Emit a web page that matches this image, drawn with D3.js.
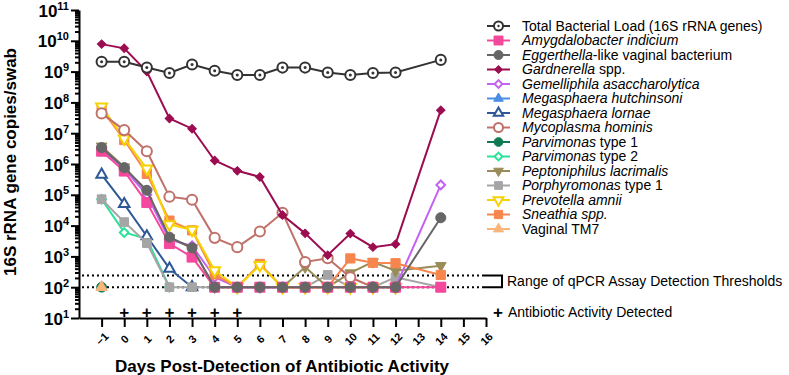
<!DOCTYPE html>
<html lang="en">
<head>
  <meta charset="UTF-8">
  <title>16S rRNA gene copies per swab</title>
  <style>
    body { margin: 0; background: #fff; }
    svg { display: block; font-family: "Liberation Sans", Arial, sans-serif; }
    .axis path, .axis line { stroke: #000; stroke-width: 2; }
    .axis text { fill: #000; }
    .series path.line { fill: none; stroke-width: 2; }
  </style>
</head>
<body>
  <script src="https://cdn.jsdelivr.net/npm/d3@7"></script>
  <script>
    // sampling days (day 13 was not sampled)
    const days = [-1, 0, 1, 2, 3, 4, 5, 6, 7, 8, 9, 10, 11, 12, 14];

    // gene copies / swab (null = not plotted)
    const totalLoad     = [2.1e9, 2.1e9, 1.35e9, 9e8, 1.7e9, 1.07e9, 7.8e8, 7.8e8, 1.35e9, 1.35e9, 9.3e8, 7.8e8, 9e8, 9.3e8, 2.4e9];
    const amygdalobacter = [2.6e6, 5.9e5, 5.6e4, 2.6e3, 9.5e2, 100, 100, 100, 100, 100, 100, 100, 100, 100, 100];
    const eggerthella   = [3.4e6, 7.6e5, 1.4e5, 4.2e3, 1.9e3, 100, 100, 100, 100, 100, 100, 100, 100, 100, 1.8e4];
    const gardnerella   = [7.8e9, 5.7e9, 1e9, 3e7, 1.4e7, 1.3e6, 6e5, 3.8e5, 2.2e4, 5.6e3, 1.1e3, 5.5e3, 2e3, 2.5e3, 5.6e7];
    const gemelliphila  = [3e6, 7e5, 1e5, 3.5e3, 2.2e3, 2.1e2, 100, 100, 100, 100, 100, 100, 100, 100, 2.1e5];
    const mHutchinsoni  = [100, null, null, null, null, null, null, null, null, null, null, null, null, null, null];
    const mLornae       = [4.5e5, 5e4, 4.5e3, 4e2, 100, null, null, null, null, null, null, null, null, null, null];
    const mycoplasma    = [4.4e7, 1.26e7, 2.6e6, 8.7e4, 6.9e4, 4e3, 2e3, 6.4e3, 2.6e4, 6.6e2, 8.7e2, 2.1e2, 100, 100, null];
    const parvimonas1   = [100, null, null, null, null, null, null, null, null, null, null, null, null, null, null];
    const parvimonas2   = [7.2e4, 6e3, 3.7e3, 100, null, null, null, null, null, null, null, null, null, null, null];
    const peptoniphilus = [3.8e6, 8e5, 1.2e5, 4e3, 1.9e3, 100, 100, 100, 100, 4.5e2, 100, 2.9e2, 6.6e2, 3.4e2, 5e2];
    const porphyromonas = [7.2e4, 1.3e4, 2.7e3, 100, 100, 100, 100, 100, 100, 100, 2.5e2, 100, 100, 2.1e2, 100];
    const prevotella    = [7.3e7, 6.7e6, 7e5, 1.1e4, 7.2e3, 3.5e2, 100, 5.2e2, 100, 100, 100, 100, 100, 100, null];
    const sneathia      = [6e7, 6e6, 4.8e5, 1.45e4, 7e3, 2.6e2, 100, 5.7e2, 100, 100, 100, 8.6e2, 6.2e2, 6e2, 2.5e2];
    const vaginalTM7    = [100, null, null, null, null, null, null, null, null, null, null, null, null, null, null];

    // x ticks, y decades, threshold range and antibiotic days
    const xTickDays = d3.range(-1, 17);
    const yDecades = d3.range(1, 12).map(e => Math.pow(10, e));
    const thresholds = [100, 240];
    const antibioticDays = [0, 1, 2, 3, 4, 5];

    const SVGWIDTH = 789;
    const SVGHEIGHT = 375;

    const svg = d3.select('body').append('svg')
      .attr('width', SVGWIDTH)
      .attr('height', SVGHEIGHT);

    const xScale = d3.scaleLinear().domain([-2, 16]).range([79, 486]);
    const yScale = d3.scaleLog().domain([1e1, 1e11]).range([318, 10]);

    // series styling, in legend order
    const series = [
      {key: 'total', values: totalLoad, color: '#333333', shape: 'circle', open: true, dot: true, size: 80,
        label: [['Total Bacterial Load (16S rRNA genes)', false]]},
      {key: 'amyg', values: amygdalobacter, color: '#f4489c', shape: 'square', size: 100,
        label: [['Amygdalobacter indicium', true]]},
      {key: 'egg', values: eggerthella, color: '#666666', shape: 'circle', size: 80,
        label: [['Eggerthella', true], ['-like vaginal bacterium', false]]},
      {key: 'gard', values: gardnerella, color: '#9b0c50', shape: 'diamond', size: 36,
        label: [['Gardnerella', true], [' spp.', false]]},
      {key: 'gem', values: gemelliphila, color: '#c462f2', shape: 'diamond', open: true, size: 38,
        label: [['Gemelliphila asaccharolytica', true]]},
      {key: 'mhut', values: mHutchinsoni, color: '#4a8fe3', shape: 'triangle', size: 50,
        label: [['Megasphaera hutchinsoni', true]]},
      {key: 'mlor', values: mLornae, color: '#2d5895', shape: 'triangle', open: true, size: 48,
        label: [['Megasphaera lornae', true]]},
      {key: 'myco', values: mycoplasma, color: '#c0716a', shape: 'circle', open: true, size: 80,
        label: [['Mycoplasma hominis', true]]},
      {key: 'parv1', values: parvimonas1, color: '#0f7a52', shape: 'circle', size: 75,
        label: [['Parvimonas', true], [' type 1', false]]},
      {key: 'parv2', values: parvimonas2, color: '#2ae39b', shape: 'diamond', open: true, size: 38,
        label: [['Parvimonas', true], [' type 2', false]]},
      {key: 'pept', values: peptoniphilus, color: '#9a8c58', shape: 'triangleDown', size: 50,
        label: [['Peptoniphilus lacrimalis', true]]},
      {key: 'porph', values: porphyromonas, color: '#a5a5a5', shape: 'square', size: 75,
        label: [['Porphyromonas', true], [' type 1', false]]},
      {key: 'prev', values: prevotella, color: '#f6d200', shape: 'triangleDown', open: true, size: 52,
        label: [['Prevotella amnii', true]]},
      {key: 'sneath', values: sneathia, color: '#f7864e', shape: 'square', size: 85,
        label: [['Sneathia spp.', true]]},
      {key: 'tm7', values: vaginalTM7, color: '#f9b67b', shape: 'triangle', size: 55,
        label: [['Vaginal TM7', false]]}
    ];
    const byKey = {};
    series.forEach(s => byKey[s.key] = s);

    // bottom to top
    const drawOrder = ['mhut', 'parv1', 'tm7', 'parv2', 'mlor', 'porph', 'pept', 'gem', 'sneath', 'prev',
      'myco', 'amyg', 'egg', 'gard', 'total'];

    const symbolTypes = {
      circle: d3.symbolCircle, square: d3.symbolSquare, diamond: d3.symbolSquare,
      triangle: d3.symbolTriangle, triangleDown: d3.symbolTriangle
    };
    const symbolRotate = {diamond: 45, triangleDown: 180};

    function addMarker (g, s, x, y, scale) {
      const m = g.append('g').attr('transform', `translate(${x},${y})`);
      m.append('path')
        .attr('d', d3.symbol().type(symbolTypes[s.shape]).size(s.size * scale)())
        .attr('transform', `rotate(${symbolRotate[s.shape] || 0})`)
        .attr('fill', s.open ? '#fff' : s.color)
        .attr('stroke', s.color)
        .attr('stroke-width', s.open ? 2 : 1);
      if (s.dot) {
        m.append('circle').attr('r', 1.5 * scale).attr('fill', s.color);
      }
    }

    // threshold dotted lines + bracket
    const thr = svg.append('g').attr('class', 'thresholds');
    thr.selectAll('line')
      .data(thresholds)
      .enter()
      .append('line')
        .attr('x1', 82)
        .attr('x2', 483)
        .attr('y1', d => yScale(d))
        .attr('y2', d => yScale(d))
        .attr('stroke', '#000')
        .attr('stroke-width', 2)
        .attr('stroke-dasharray', '2,3');
    thr.append('path')
      .attr('d', `M483,${yScale(thresholds[1])}H502V${yScale(thresholds[0])}H483`)
      .attr('fill', 'none')
      .attr('stroke', '#000')
      .attr('stroke-width', 2);
    thr.append('text')
      .attr('x', 507)
      .attr('y', (yScale(thresholds[0]) + yScale(thresholds[1])) / 2)
      .attr('dy', '0.35em')
      .attr('font-size', 14)
      .text('Range of qPCR Assay Detection Thresholds');

    // data lines and markers
    const line = d3.line()
      .defined(d => d[1] != null)
      .x(d => xScale(d[0]))
      .y(d => yScale(d[1]));

    const plot = svg.append('g').attr('class', 'plot');
    drawOrder.forEach(key => {
      const s = byKey[key];
      const pts = days.map((d, i) => [d, s.values[i]]);
      const g = plot.append('g').attr('class', 'series');
      g.append('path')
        .attr('class', 'line')
        .attr('d', line(pts))
        .attr('stroke', s.color);
      pts.filter(p => p[1] != null).forEach(p => addMarker(g, s, xScale(p[0]), yScale(p[1]), 1));
    });

    // axes
    const xAxis = d3.axisBottom(xScale)
      .tickValues(xTickDays)
      .tickSize(9)
      .tickSizeOuter(0)
      .tickFormat(d3.format('d'));
    const xg = svg.append('g')
      .attr('class', 'x axis')
      .attr('transform', `translate(0,${yScale(10)})`)
      .call(xAxis);
    xg.selectAll('text')
      .attr('font-size', 11)
      .attr('font-weight', 'bold')
      .attr('y', 0)
      .attr('dy', '0.35em')
      .attr('text-anchor', 'middle')
      .attr('transform', 'translate(0,21) rotate(-45)');

    // minor log ticks
    const minorTicks = [];
    yDecades.slice(0, -1).forEach(v => {
      for (let k = 2; k < 10; k++) minorTicks.push(v * k);
    });
    svg.append('g')
      .attr('class', 'y axis minor')
      .attr('transform', `translate(${xScale(-2)},0)`)
      .call(d3.axisLeft(yScale).tickValues(minorTicks).tickSize(4).tickFormat(''))
      .select('.domain').remove();

    const yg = svg.append('g')
      .attr('class', 'y axis')
      .attr('transform', `translate(${xScale(-2)},0)`)
      .call(d3.axisLeft(yScale).tickValues(yDecades).tickSize(8).tickSizeOuter(0).tickFormat(''));
    yg.selectAll('.tick').append('text')
      .attr('x', -10)
      .attr('y', 6)
      .attr('text-anchor', 'end')
      .attr('font-weight', 'bold')
      .each(function (d) {
        const t = d3.select(this);
        t.append('tspan').attr('font-size', 17).text('10');
        t.append('tspan').attr('font-size', 11).attr('dy', -7).text(Math.round(Math.log10(d)));
      });

    // antibiotic markers
    svg.append('g')
      .selectAll('text')
      .data(antibioticDays)
      .enter()
      .append('text')
        .attr('x', d => xScale(d))
        .attr('y', 312)
        .attr('dy', '0.35em')
        .attr('text-anchor', 'middle')
        .attr('font-size', 17)
        .attr('font-weight', 'bold')
        .text('+');
    svg.append('text')
      .attr('x', 498).attr('y', 312).attr('dy', '0.35em')
      .attr('text-anchor', 'middle')
      .attr('font-size', 17).attr('font-weight', 'bold')
      .text('+');
    svg.append('text')
      .attr('x', 508).attr('y', 312).attr('dy', '0.35em')
      .attr('font-size', 14)
      .text('Antibiotic Activity Detected');

    // axis titles
    svg.append('text')
      .attr('x', 282)
      .attr('y', 372)
      .attr('text-anchor', 'middle')
      .attr('font-size', 17)
      .attr('font-weight', 'bold')
      .text('Days Post-Detection of Antibiotic Activity');
    svg.append('text')
      .attr('transform', 'translate(16,162) rotate(-90)')
      .attr('text-anchor', 'middle')
      .attr('font-size', 17)
      .attr('font-weight', 'bold')
      .text('16S rRNA gene copies/swab');

    // legend
    const legend = svg.append('g').attr('class', 'legend');
    series.forEach((s, i) => {
      const y = 26 + i * 14.5;
      const g = legend.append('g');
      g.append('line')
        .attr('x1', 487).attr('x2', 510)
        .attr('y1', y).attr('y2', y)
        .attr('stroke', s.color).attr('stroke-width', 2);
      addMarker(g, s, 498.5, y, 0.8);
      const t = g.append('text')
        .attr('x', 522).attr('y', y).attr('dy', '0.35em')
        .attr('font-size', 14)
        .style('white-space', 'pre');
      s.label.forEach(part => {
        t.append('tspan')
          .attr('font-style', part[1] ? 'italic' : 'normal')
          .text(part[0]);
      });
    });
  </script>
</body>
</html>
